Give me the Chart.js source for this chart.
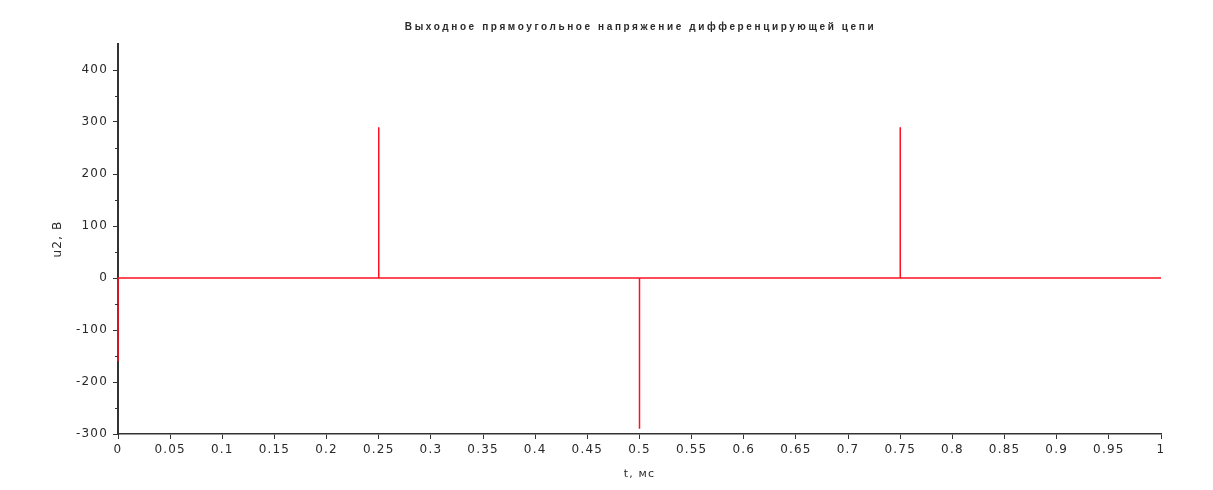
<!DOCTYPE html>
<html>
<head>
<meta charset="utf-8">
<script src="https://cdn.jsdelivr.net/npm/chart.js@4"></script>
<style>
  html, body { margin: 0; padding: 0; background: #fff; }
  #wrap { width: 1213px; height: 490px; position: relative; }
</style>
</head>
<body>
<div id="wrap"><canvas id="chart"></canvas></div>
<script>
// --- data ---
const chartTitle = 'Выходное прямоугольное напряжение дифференцирующей цепи';
const xLabel = 't, мс';
const yLabel = 'u2, В';

// time (ms) and output voltage (V) of the pulse train
const tValues = [0, 0, 0.25, 0.25, 0.25, 0.5, 0.5, 0.5, 0.75, 0.75, 0.75, 1];
const uValues = [-160, 0, 0, 290, 0, 0, -290, 0, 0, 290, 0, 0];

const yMajorTicks = [-300, -200, -100, 0, 100, 200, 300, 400];
const yMinorTicks = [-250, -150, -50, 50, 150, 250, 350];

const axisColor = '#333';
const textColor = '#2a2a2a';
const tickFont = { family: '"DejaVu Sans", sans-serif', size: 12 };

// letter-spaced text like the original plot, plus the title and minor ticks
const lookPlugin = {
  id: 'look',
  beforeDraw(chart) {
    chart.ctx.letterSpacing = '1.2px';
  },
  afterDraw(chart) {
    const ctx = chart.ctx;
    const area = chart.chartArea;
    const y = chart.scales.y;
    ctx.save();
    // minor ticks on y axis
    ctx.strokeStyle = axisColor;
    ctx.lineWidth = 1;
    yMinorTicks.forEach(v => {
      const py = Math.round(y.getPixelForValue(v)) + 0.5;
      ctx.beginPath();
      ctx.moveTo(area.left - 3, py);
      ctx.lineTo(area.left, py);
      ctx.stroke();
    });
    // title
    ctx.letterSpacing = '2.6px';
    ctx.fillStyle = textColor;
    ctx.font = 'bold 10px "Liberation Sans", Arial, sans-serif';
    ctx.textAlign = 'center';
    ctx.textBaseline = 'middle';
    ctx.fillText(chartTitle, (area.left + area.right) / 2 + 1, 27);
    ctx.restore();
  }
};

const ctx = document.getElementById('chart').getContext('2d');
new Chart(ctx, {
  type: 'line',
  data: {
    datasets: [{
      data: tValues.map((t, i) => ({ x: t, y: uValues[i] })),
      borderColor: '#ff1020',
      borderWidth: 1.5,
      pointRadius: 0,
      tension: 0,
      fill: false,
      clip: false
    }]
  },
  options: {
    responsive: true,
    maintainAspectRatio: false,
    animation: false,
    layout: { padding: { top: 44, right: 52, left: 0, bottom: 0 } },
    plugins: { legend: { display: false }, tooltip: { enabled: false }, title: { display: false } },
    scales: {
      x: {
        type: 'linear',
        min: 0,
        max: 1,
        afterFit(scale) { scale.height = 56; },
        ticks: {
          stepSize: 0.05,
          color: textColor,
          font: tickFont,
          padding: 4,
          maxRotation: 0,
          autoSkip: false,
          callback: v => String(Math.round(v * 100) / 100)
        },
        grid: { drawOnChartArea: false, drawTicks: true, tickLength: 5, color: axisColor, tickColor: axisColor },
        border: { display: true, color: axisColor, width: 1.5 },
        title: {
          display: true,
          text: xLabel,
          color: textColor,
          font: { family: '"DejaVu Sans", sans-serif', size: 11 },
          padding: { top: 0, bottom: 9 }
        }
      },
      y: {
        min: -300,
        max: 450,
        afterFit(scale) { scale.width = 118; },
        ticks: {
          color: textColor,
          font: tickFont,
          padding: 5,
          callback: v => String(v)
        },
        afterBuildTicks(scale) {
          scale.ticks = yMajorTicks.map(v => ({ value: v }));
        },
        grid: { drawOnChartArea: false, drawTicks: true, tickLength: 5, color: axisColor, tickColor: axisColor },
        border: { display: true, color: axisColor, width: 2 },
        title: {
          display: true,
          text: yLabel,
          color: textColor,
          font: { family: '"DejaVu Sans", sans-serif', size: 12 },
          padding: { top: 51, bottom: 0 }
        }
      }
    }
  },
  plugins: [lookPlugin]
});
</script>
</body>
</html>
